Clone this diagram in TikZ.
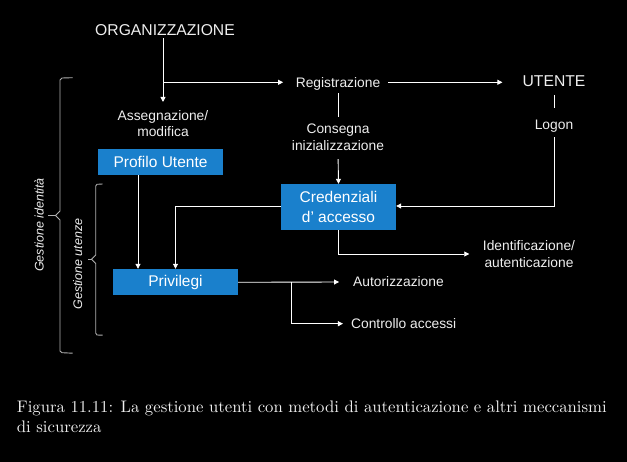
\documentclass[tikz,border=0pt]{standalone}
\usepackage{fontspec}
\newfontfamily\arial{Liberation Sans}
\newfontfamily\capfont{lmroman10-regular}[Extension=.otf]
\usetikzlibrary{arrows.meta,calc}
\definecolor{boxblue}{RGB}{26,128,204}
\definecolor{txt}{RGB}{238,238,238}
\definecolor{brc}{RGB}{176,176,176}
\begin{document}
\begin{tikzpicture}[x=1pt,y=-1pt,
  lab/.style={font=\arial\fontsize{13.8}{16.7}\selectfont, text=txt, inner sep=0pt, align=center},
  big/.style={font=\arial\fontsize{15.7}{19}\selectfont, text=txt, inner sep=0pt},
  bx/.style={fill=boxblue, text=white, font=\arial\fontsize{15.5}{19.3}\selectfont, align=center, inner sep=0pt},
  ln/.style={draw=white, line width=0.9pt},
  arr/.style={ln, -{Triangle[length=5pt,width=5pt]}},
  brace/.style={draw=brc, line width=0.9pt},
  side/.style={font=\arial\itshape\fontsize{12.5}{15}\selectfont, text=txt, rotate=90, inner sep=0pt},
  captext/.style={font=\capfont\fontsize{16.7}{20.4}\selectfont, text=txt, inner sep=0pt, align=left}
]
\fill[black] (0,0) rectangle (627,462);
\useasboundingbox (0,0) rectangle (627,462);

% nodes
\node[big] (org) at (165,30.5) {ORGANIZZAZIONE};
\node[lab] (reg) at (338,83.8) {Registrazione};
\node[big] (ute) at (554,81.5) {UTENTE};
\node[lab] (ass) at (163,123.6) {Assegnazione/\\modifica};
\node[bx, minimum width=125pt, minimum height=26pt] (prof) at (160.5,162) {Profilo Utente};
\node[lab] (cons) at (338,137.3) {Consegna\\inizializzazione};
\node[lab] (logon) at (554,126.5) {Logon};
\node[bx, minimum width=115pt, minimum height=46pt] (cred) at (338.5,207) {Credenziali\\d’ accesso};
\node[bx, minimum width=125pt, minimum height=26pt] (priv) at (175.5,282) {Privilegi};
\node[lab] (ident) at (529,254) {Identificazione/\\autenticazione};
\node[lab] (aut) at (398.5,281.7) {Autorizzazione};
\node[lab] (ctrl) at (403.7,323.7) {Controllo accessi};

% connectors
\draw[arr, shorten <=2pt] (org.south -| ass.north) -- ([yshift=8pt]ass.north);
\coordinate (b1) at (163,82.3);
\draw[arr, shorten >=12.5pt] (b1) -- (b1 -| reg.west);
\draw[arr] ([xshift=8pt]reg.east |- b1) -- ([xshift=-20pt]ute.west |- b1);
\draw[ln, shorten <=3pt, shorten >=6.6pt] (reg.south) -- (cons.north);
\draw[arr, shorten <=8.3pt] (cons.south) -- (cred.north);
\draw[ln, shorten <=7.7pt, shorten >=12.4pt] (ute.south) -- (logon.north);
\draw[arr, shorten <=4.4pt] (logon.south) |- ([yshift=1pt]cred.east);
\draw[arr] ([yshift=0.7pt]cred.west) -| (priv.north);
\draw[arr] ([xshift=-22.5pt]prof.south) -- ([xshift=-22.5pt]prof.south |- priv.north);
\draw[arr] (cred.south) |- ([xshift=-13.5pt]ident.west);
\draw[arr] ([yshift=-0.3pt]priv.east) -- ([xshift=-14pt]aut.west |- priv.east);
\coordinate (b2) at (291.3,282.3);
\draw[arr] (b2) |- ([xshift=-8pt]ctrl.west);

% braces
\draw[brace] (72.7,77.7) -- (62,78) -- (60,80) -- (60,211) -- (55.5,215.5) -- (60,220) -- (60,351) -- (62,352.7) -- (72.7,353.2);
\draw[brace] (55.5,215.5) -- (48,215.5);
\draw[brace] (102.7,184) -- (97,184.3) -- (95.7,186) -- (95.7,255) -- (91.5,259.3) -- (95.7,263.5) -- (95.7,333) -- (97,335) -- (102.7,335.2);
\draw[brace] (91.5,259.3) -- (88,259.3);
\node[side] (gid) at (39,225) {Gestione identità};
\node[side] (gut) at (77.7,264) {Gestione utenze};

% caption
\node[captext, anchor=north west] (caption) at (16.7,400.6) {Figura 11.11: La gestione utenti con metodi di autenticazione e altri meccanismi\\di sicurezza};
\end{tikzpicture}
\end{document}
